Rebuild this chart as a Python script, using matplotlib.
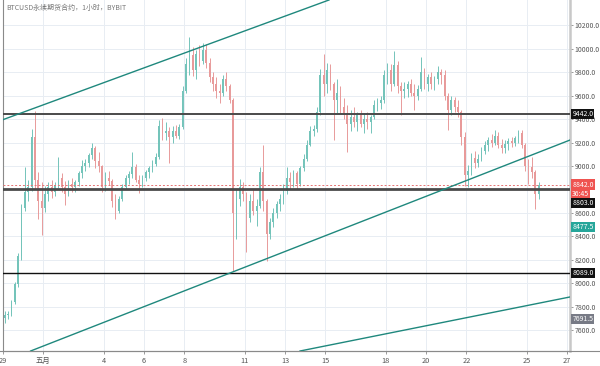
import numpy as np
import matplotlib
matplotlib.use('Agg')
import matplotlib.pyplot as plt
from matplotlib.transforms import blended_transform_factory

plt.rcParams['font.family'] = ['Noto Sans CJK SC', 'DejaVu Sans']

# ---- data: BTCUSD perpetual, 4h candles, days counted from May 1 = 1 (Apr 29 = -1)
opens = [7700, 7730, 7740, 7840, 7990, 8230,
         8640, 8780, 8820, 9250, 8880, 8700,
         8640, 8760, 8820, 8780, 8840, 8900,
         8820, 8760, 8850, 8820, 8860, 8940,
         9000, 9030, 9090, 9150, 9040, 9000,
         8820, 8900, 8870, 8700, 8620, 8720,
         8820, 8900, 8930, 8990, 8880, 8850,
         8900, 8950, 8980, 9020, 9080, 9340,
         9280, 9300, 9250, 9300, 9260, 9330,
         9640, 9870, 9950, 9820, 9960, 9900,
         9990, 9880, 9760, 9700, 9640, 9620,
         9740, 9680, 9560, 8600, 8720, 8820,
         8760, 8560, 8700, 8620, 8660, 8950,
         8700, 8420, 8520, 8600, 8680, 8720,
         8790, 8900, 8860, 8940, 8850, 8980,
         9060, 9180, 9300, 9320, 9460, 9780,
         9700, 9820, 9700, 9560, 9620, 9500,
         9440, 9360, 9420, 9380, 9440, 9360,
         9400, 9380, 9420, 9520, 9540, 9560,
         9780, 9820, 9700, 9860, 9680, 9640,
         9660, 9700, 9620, 9600, 9660, 9800,
         9700, 9760, 9700, 9740, 9800, 9780,
         9600, 9480, 9560, 9500, 9460, 9250,
         8920, 8960, 9070, 9030, 9060, 9130,
         9180, 9220, 9200, 9260, 9180, 9150,
         9190, 9210, 9200, 9240, 9280, 9180,
         9000, 8990, 8950, 8760]
highs = [7760, 7760, 7860, 8010, 8260, 8680,
         8990, 8880, 9320, 9470, 8950, 8860,
         8830, 8860, 8880, 8860, 9080, 8940,
         8870, 8880, 8900, 8880, 8960, 9050,
         9060, 9110, 9200, 9170, 9120, 9010,
         8950, 8960, 8890, 8760, 8740, 8850,
         8920, 8960, 9120, 9020, 8920, 8920,
         8970, 9000, 9050, 9110, 9390, 9410,
         9380, 9330, 9340, 9350, 9360, 9680,
         9920, 10100, 10020, 9990, 10030, 10050,
         10040, 9920, 9800, 9760, 9700, 9780,
         9800, 9700, 9580, 8800, 8890, 8860,
         8780, 8760, 8800, 8720, 8990, 9180,
         8720, 8560, 8640, 8700, 8760, 8850,
         8990, 8950, 8970, 8960, 9000, 9100,
         9220, 9340, 9350, 9500, 9830, 9960,
         9880, 9870, 9720, 9740, 9680, 9580,
         9520, 9480, 9500, 9460, 9480, 9450,
         9460, 9440, 9560, 9580, 9600, 9820,
         9880, 9870, 9980, 9900, 9720, 9720,
         9730, 9740, 9700, 9690, 9930, 9840,
         9790, 9800, 9770, 9850, 9830, 9820,
         9620, 9600, 9590, 9560, 9480, 9290,
         9010, 9110, 9130, 9100, 9160, 9210,
         9250, 9270, 9310, 9290, 9230, 9220,
         9240, 9250, 9260, 9310, 9310, 9200,
         9060, 9080, 8970, 8860]
lows = [7660, 7690, 7720, 7820, 7970, 8200,
        8620, 8700, 8790, 8800, 8550, 8410,
        8610, 8700, 8730, 8740, 8810, 8780,
        8670, 8740, 8780, 8780, 8830, 8900,
        8960, 8990, 9060, 8980, 8950, 8780,
        8790, 8840, 8650, 8550, 8600, 8700,
        8800, 8850, 8900, 8860, 8770, 8820,
        8870, 8900, 8950, 9000, 9060, 9220,
        9220, 9030, 9200, 9240, 9230, 9320,
        9620, 9780, 9770, 9740, 9850, 9870,
        9840, 9720, 9640, 9580, 9540, 9600,
        9640, 9540, 8100, 8380, 8660, 8700,
        8270, 8520, 8580, 8490, 8640, 8620,
        8190, 8380, 8480, 8560, 8620, 8680,
        8760, 8800, 8820, 8800, 8830, 8960,
        9040, 9170, 9260, 9290, 9440, 9600,
        9620, 9650, 9220, 9450, 9450, 9400,
        9120, 9300, 9330, 9300, 9330, 9280,
        9320, 9280, 9400, 9470, 9490, 9540,
        9700, 9640, 9680, 9620, 9440, 9580,
        9590, 9600, 9480, 9560, 9640, 9660,
        9640, 9660, 9650, 9700, 9700, 9560,
        9310, 9440, 9460, 9420, 9180, 8830,
        8820, 8920, 8980, 8990, 9040, 9100,
        9130, 9160, 9180, 9150, 9110, 9110,
        9140, 9160, 9170, 9200, 9150, 8960,
        8850, 8900, 8630, 8720]
closes = opens[1:] + [8842]

levels = [9442.0, 8803.0, 8089.0]          # black horizontal lines
last_price = 8842.0
countdown = '36:45'
green_tag = 8477.5
gray_tag = 7691.5

# channel lines: two points each (day, price)
upper_line = [(-1.144, 9387), (4.811, 9763)]
lower_line = [(10.022, 8070), (27.144, 9222)]
bottom_line = [(21.437, 7685.5), (27.144, 7882)]

day_ticks = [-1, 1, 4, 6, 8, 11, 13, 15, 18, 20, 22, 25, 27]
day_labels = ['29', '五月', '4', '6', '8', '11', '13', '15', '18', '20', '22', '25', '27']
price_ticks = list(range(7600, 10201, 200))
hidden_price_labels = [8800]   # covered by the price tags in the original

# ---- figure
fig = plt.figure(figsize=(6, 3.66), dpi=100)
ax = fig.add_axes([3 / 600, 15 / 366, 567 / 600, 351 / 366])
ax.set_xlim(-0.995, 27.144)
ax.set_ylim(7420.6, 10417.7)

# grid
for d in day_ticks:
    ax.axvline(d, color='#e8edf3', lw=0.7, zorder=0)
for p in price_ticks:
    ax.axhline(p, color='#e8edf3', lw=0.7, zorder=0)

# candles
step = 4 / 24
t = -1 + (np.arange(len(opens)) + 0.5) * step
o = np.array(opens, float)
c = np.array(closes, float)
h = np.array(highs, float)
l = np.array(lows, float)
up = c >= o
col = np.where(up, '#74c4ba', '#e89a9a')
ax.vlines(t, l, h, colors=col, lw=0.7, zorder=2)
body_h = np.maximum(np.abs(c - o), 4)
ax.bar(t, body_h, bottom=np.minimum(o, c), width=step * 0.5, color=col,
       linewidth=0, zorder=2)

# horizontal levels
ax.axhline(levels[0], color='#4a4a4a', lw=1.4, zorder=3)
ax.axhline(levels[1], color='#4a4a4a', lw=2.0, zorder=3)
ax.axhline(levels[2], color='#111111', lw=1.0, zorder=3)
ax.axhline(last_price, color='#e57373', lw=0.7, ls=(0, (2, 2)), zorder=3)

# channel lines
for pts in (upper_line, lower_line, bottom_line):
    ax.axline(pts[0], pts[1], color='#1f887d', lw=1.0, zorder=3)

# axes styling
ax.spines['top'].set_visible(False)
ax.spines['left'].set_color('#8a8a8a')
ax.spines['left'].set_linewidth(0.8)
ax.spines['bottom'].set_color('#8a8a8a')
ax.spines['bottom'].set_linewidth(0.8)
ax.spines['right'].set_color('#c8c8c8')
ax.spines['right'].set_linewidth(1.8)

ax.set_xticks(day_ticks)
ax.set_xticklabels(day_labels)
ax.tick_params(axis='x', length=2, width=0.6, color='#8a8a8a', labelsize=5.3,
               labelcolor='#555555', pad=2)
ax.yaxis.tick_right()
ax.set_yticks(price_ticks)
ax.set_yticklabels(['' if p in hidden_price_labels else f'{p:.1f}' for p in price_ticks])
ax.tick_params(axis='y', length=2, width=0.6, color='#8a8a8a', labelsize=5.0,
               labelcolor='#555555', pad=1.5)

# price tags on the right axis
tr = blended_transform_factory(ax.transAxes, ax.transData)


def tag(price, text, bg, dy=0):
    ax.annotate(text, xy=(1.004, price), xycoords=tr, xytext=(0, dy),
                textcoords='offset points', ha='left', va='center', fontsize=5.0,
                color='white', annotation_clip=False, zorder=6,
                bbox=dict(boxstyle='square,pad=0.15', fc=bg, ec='none'))


tag(levels[0], f'{levels[0]:.1f}', '#111111')
tag(last_price, f'{last_price:.1f}', '#ef5350')
tag(last_price, countdown, '#ef5350', dy=-6.6)
tag(last_price, f'{levels[1]:.1f}', '#111111', dy=-13.2)
tag(green_tag, f'{green_tag:.1f}', '#26a69a')
tag(levels[2], f'{levels[2]:.1f}', '#111111')
tag(gray_tag, f'{gray_tag:.1f}', '#787b86')

# bottom axis line across whole width
fig.add_artist(plt.Line2D([0, 1], [1 - 351 / 366, 1 - 351 / 366], color='#8a8a8a',
                          lw=0.8, transform=fig.transFigure))

fig.text(6 / 600, 1 - 8 / 366, 'BTCUSD永续期货合约，1小时，BYBIT', fontsize=5,
         color='#777777', ha='left', va='center')

fig.savefig('out.png', dpi=100)
